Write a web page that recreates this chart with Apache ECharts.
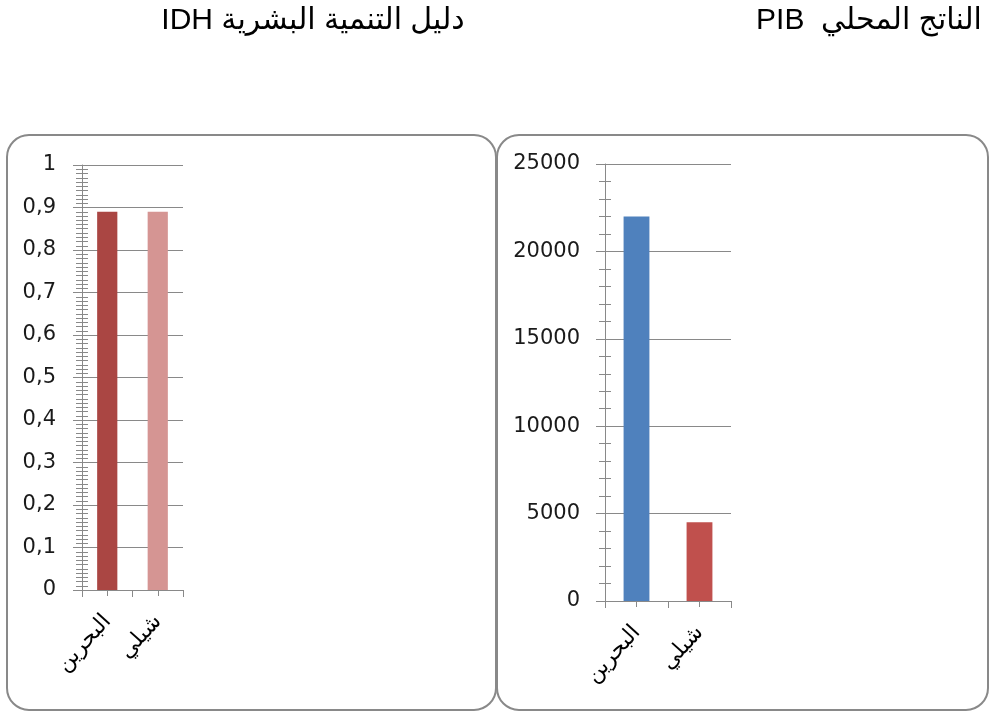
<!DOCTYPE html>
<html>
<head>
<meta charset="utf-8">
<script src="https://cdn.jsdelivr.net/npm/echarts@6/dist/echarts.min.js"></script>
<style>
  html, body { margin: 0; padding: 0; background: #fff; }
  #chart { width: 989px; height: 711px; }
</style>
</head>
<body>
<div id="chart"></div>
<script>
// Countries compared in both panels
const countries = ['البحرين', 'شيلي'];

// Human development index (IDH)
const idhValues = [0.89, 0.89];
const idhColors = ['#AA4643', '#D59593'];
const idhTicks = ['0', '0,1', '0,2', '0,3', '0,4', '0,5', '0,6', '0,7', '0,8', '0,9', '1'];

// Gross domestic product (PIB)
const pibValues = [22000, 4500];
const pibColors = ['#4F81BD', '#C0504D'];
const pibTicks = ['0', '5000', '10000', '15000', '20000', '25000'];

const titleIdh = 'IDH دليل التنمية البشرية';
const titlePib = 'PIB  الناتج المحلي';

const GRAY = '#898989';
const NUM_FONT = 'DejaVu Sans';
const TITLE_FONT = '"Liberation Sans", Arial, "DejaVu Sans", sans-serif';

const chart = echarts.init(document.getElementById('chart'), null, { renderer: 'canvas' });

function mainCategoryAxis(gridIndex) {
  return {
    type: 'category', gridIndex, data: countries, position: 'bottom',
    axisLine: { show: true, lineStyle: { color: GRAY, width: 1 } },
    axisTick: { show: true, alignWithLabel: false, length: 7, lineStyle: { color: GRAY } },
    axisLabel: {
      show: true, interval: 0, rotate: 48, margin: 28,
      color: '#000', fontFamily: '"DejaVu Sans", sans-serif', fontSize: 22
    },
    splitLine: { show: false }
  };
}
// Extra tick marks at the category centres, drawn on both sides of the axis line
function centerTickAxis(gridIndex, inside) {
  return {
    type: 'category', gridIndex, data: countries, position: 'bottom',
    axisLine: { show: false },
    axisTick: { show: true, alignWithLabel: true, inside, length: 6, lineStyle: { color: GRAY } },
    axisLabel: { show: false },
    splitLine: { show: false }
  };
}
function mainValueAxis(gridIndex, max, interval, minorSplit, ticks, margin) {
  return {
    type: 'value', gridIndex, min: 0, max, interval, position: 'left',
    axisLine: { show: true, lineStyle: { color: GRAY, width: 1 } },
    axisTick: { show: true, length: 9, lineStyle: { color: GRAY } },
    minorTick: { show: true, splitNumber: minorSplit, length: 6, lineStyle: { color: GRAY } },
    splitLine: { show: true, lineStyle: { color: GRAY, width: 1 } },
    axisLabel: {
      show: true, margin, color: '#1a1a1a', fontFamily: NUM_FONT, fontSize: 21,
      formatter: v => ticks[Math.round(v / interval)]
    }
  };
}
// Minor ticks on the inner side of the value axis
function minorInsideAxis(gridIndex, max, interval, minorSplit) {
  return {
    type: 'value', gridIndex, min: 0, max, interval, position: 'left',
    axisLine: { show: false },
    axisTick: { show: false, inside: true },
    minorTick: { show: true, splitNumber: minorSplit, length: 6, lineStyle: { color: GRAY } },
    splitLine: { show: false },
    axisLabel: { show: false }
  };
}

const option = {
  backgroundColor: '#fff',
  animation: false,
  title: [
    {
      text: titleIdh, left: 308, top: 1, textAlign: 'center',
      textStyle: { fontFamily: TITLE_FONT, fontSize: 30, fontWeight: 'normal', color: '#000' }
    },
    {
      text: titlePib, left: 864, top: 1, textAlign: 'center',
      textStyle: { fontFamily: TITLE_FONT, fontSize: 30, fontWeight: 'normal', color: '#000' }
    }
  ],
  graphic: [
    {
      type: 'rect', z: -1, silent: true,
      shape: { x: 7, y: 135, width: 489, height: 575, r: 22 },
      style: { fill: 'none', stroke: GRAY, lineWidth: 2 }
    },
    {
      type: 'rect', z: -1, silent: true,
      shape: { x: 497, y: 135, width: 491, height: 575, r: 22 },
      style: { fill: 'none', stroke: GRAY, lineWidth: 2 }
    }
  ],
  grid: [
    { left: 82, top: 165, width: 101, height: 425, containLabel: false },
    { left: 605, top: 164, width: 126, height: 437, containLabel: false }
  ],
  xAxis: [
    mainCategoryAxis(0),
    centerTickAxis(0, true),
    centerTickAxis(0, false),
    mainCategoryAxis(1),
    centerTickAxis(1, true),
    centerTickAxis(1, false)
  ],
  yAxis: [
    mainValueAxis(0, 1, 0.1, 10, idhTicks, 26),
    minorInsideAxis(0, 1, 0.1, 10),
    mainValueAxis(1, 25000, 5000, 5, pibTicks, 25),
    minorInsideAxis(1, 25000, 5000, 5)
  ],
  series: [
    {
      type: 'bar', xAxisIndex: 0, yAxisIndex: 0, barWidth: '40%',
      data: idhValues.map((v, i) => ({ value: v, itemStyle: { color: idhColors[i] } }))
    },
    {
      type: 'bar', xAxisIndex: 3, yAxisIndex: 2, barWidth: '41%',
      data: pibValues.map((v, i) => ({ value: v, itemStyle: { color: pibColors[i] } }))
    }
  ]
};

chart.setOption(option);
</script>
</body>
</html>
